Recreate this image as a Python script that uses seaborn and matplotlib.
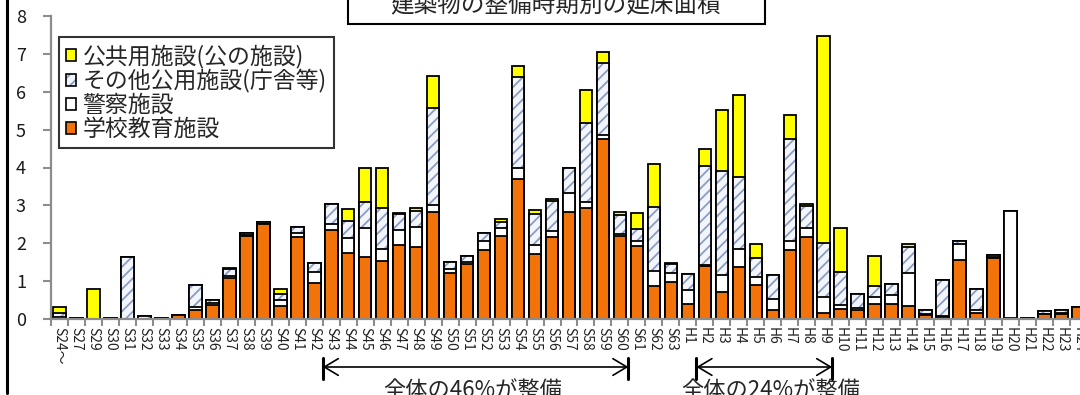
import numpy as np
import pandas as pd
import matplotlib
matplotlib.use("Agg")
import matplotlib.pyplot as plt
from matplotlib.patches import Patch, Rectangle
from matplotlib.lines import Line2D
from matplotlib.transforms import blended_transform_factory
import seaborn as sns

# Construction period (Showa / Heisei years)
periods = [
    "S24～", "S27", "S29", "S30", "S31", "S32", "S33", "S34", "S35", "S36",
    "S37", "S38", "S39", "S40", "S41", "S42", "S43", "S44", "S45", "S46",
    "S47", "S48", "S49", "S50", "S51", "S52", "S53", "S54", "S55", "S56",
    "S57", "S58", "S59", "S60", "S61", "S62", "S63",
    "H1", "H2", "H3", "H4", "H5", "H6", "H7", "H8", "H9", "H10",
    "H11", "H12", "H13", "H14", "H15", "H16", "H17", "H18", "H19", "H20",
    "H21", "H22", "H23", "H24",
]

# Floor area by facility type (10,000 m2)
school = [
    0.01, 0.00, 0.00, 0.00, 0.00, 0.01, 0.00, 0.10, 0.24, 0.36,
    1.07, 2.20, 2.50, 0.35, 2.17, 0.96, 2.35, 1.73, 1.64, 1.53,
    1.95, 1.91, 2.82, 1.21, 1.45, 1.82, 2.19, 3.69, 1.71, 2.17,
    2.83, 2.94, 4.74, 2.20, 1.93, 0.88, 0.97,
    0.39, 1.39, 0.72, 1.36, 0.90, 0.24, 1.82, 2.16, 0.15, 0.26,
    0.25, 0.40, 0.40, 0.34, 0.10, 0.05, 1.56, 0.15, 1.62, 0.02,
    0.01, 0.12, 0.13, 0.32,
]
police = [
    0.03, 0.00, 0.00, 0.00, 0.00, 0.00, 0.00, 0.00, 0.08, 0.05,
    0.06, 0.02, 0.02, 0.15, 0.11, 0.29, 0.17, 0.40, 0.77, 0.32,
    0.40, 0.53, 0.19, 0.10, 0.06, 0.24, 0.20, 0.31, 0.24, 0.16,
    0.49, 0.14, 0.13, 0.04, 0.13, 0.39, 0.24,
    0.38, 0.03, 0.44, 0.49, 0.22, 0.28, 0.24, 0.23, 0.44, 0.11,
    0.05, 0.19, 0.23, 0.87, 0.03, 0.03, 0.41, 0.08, 0.02, 2.82,
    0.00, 0.02, 0.02, 0.00,
]
other_public = [
    0.13, 0.02, 0.00, 0.02, 1.63, 0.06, 0.02, 0.00, 0.58, 0.09,
    0.20, 0.06, 0.05, 0.15, 0.16, 0.24, 0.51, 0.46, 0.67, 1.09,
    0.42, 0.42, 2.57, 0.19, 0.15, 0.20, 0.18, 2.40, 0.82, 0.78,
    0.66, 2.10, 1.88, 0.50, 0.31, 1.69, 0.23,
    0.42, 2.63, 2.75, 1.91, 0.50, 0.64, 2.69, 0.59, 1.42, 0.86,
    0.35, 0.29, 0.29, 0.70, 0.10, 0.95, 0.08, 0.55, 0.05, 0.02,
    0.01, 0.06, 0.08, 0.00,
]
public_use = [
    0.16, 0.00, 0.78, 0.00, 0.02, 0.00, 0.00, 0.00, 0.00, 0.00,
    0.02, 0.00, 0.00, 0.13, 0.00, 0.00, 0.00, 0.32, 0.90, 1.04,
    0.03, 0.08, 0.83, 0.00, 0.00, 0.00, 0.08, 0.29, 0.11, 0.07,
    0.02, 0.86, 0.30, 0.08, 0.42, 1.12, 0.04,
    0.00, 0.44, 1.60, 2.15, 0.36, 0.00, 0.63, 0.05, 5.46, 1.16,
    0.00, 0.79, 0.00, 0.06, 0.00, 0.00, 0.02, 0.00, 0.00, 0.00,
    0.00, 0.00, 0.00, 0.00,
]

series_names = ["公共用施設(公の施設)", "その他公用施設(庁舎等)", "警察施設", "学校教育施設"]
title = "建築物の整備時期別の延床面積"
spans = [("S43", "S60", "全体の46%が整備"), ("H2", "H9", "全体の24%が整備")]

ORANGE = "#F2730A"
YELLOW = "#FFFF00"
HATCH_FACE = "#F2F5FB"
HATCH_LINE = "#8B9DC3"
GRAY = "#8C8C8C"

sns.set_style("white")
plt.rcParams["font.family"] = ["Noto Sans CJK JP", "DejaVu Sans"]
plt.rcParams["hatch.linewidth"] = 1.3

df = pd.DataFrame({
    "period": periods,
    "school": school,
    "police": police,
    "other": other_public,
    "public": public_use,
})
df["c_school"] = df["school"]
df["c_police"] = df["c_school"] + df["police"]
df["c_other"] = df["c_police"] + df["other"]
df["c_public"] = df["c_other"] + df["public"]

W, H = 1080, 395
fig = plt.figure(figsize=(W / 100, H / 100), dpi=100)
ax = fig.add_axes([51 / W, 76 / H, 1036 / W, 303 / H])

BW = 0.74
EDGE = 1.3
common = dict(x="period", order=periods, width=BW, saturation=1, ax=ax, errorbar=None)

# Stacked bars: draw cumulative totals from the top layer down
sns.barplot(data=df, y="c_public", color=YELLOW, edgecolor="black", linewidth=EDGE, **common)
sns.barplot(data=df, y="c_other", color=HATCH_FACE, edgecolor=HATCH_LINE, linewidth=0,
            hatch="///", **common)
sns.barplot(data=df, y="c_other", fill=False, edgecolor="black", linewidth=EDGE, **common)
sns.barplot(data=df, y="c_police", color="white", edgecolor="black", linewidth=EDGE, **common)
sns.barplot(data=df, y="c_school", color=ORANGE, edgecolor="black", linewidth=EDGE, **common)

n = len(periods)
ax.set_xlim(-0.5, n - 0.5)
ax.set_ylim(0, 8)
ax.set_xlabel("")
ax.set_ylabel("")

for side in ("top", "right"):
    ax.spines[side].set_visible(False)
for side in ("left", "bottom"):
    ax.spines[side].set_color(GRAY)
    ax.spines[side].set_linewidth(1.6)
    ax.spines[side].set_zorder(5)

ax.set_yticks(range(0, 9))
ax.tick_params(axis="y", direction="out", length=6, width=1.5, color=GRAY,
               labelsize=13, pad=12, labelcolor="#1a1a1a", left=True)

ax.set_xticks(range(n))
ax.set_xticklabels(periods, rotation=270, ha="center", va="top", fontsize=10, color="#222222")
ax.set_xticks(np.arange(-0.5, n, 1.0), minor=True)
ax.tick_params(axis="x", which="major", length=0, pad=6, bottom=True)
ax.tick_params(axis="x", which="minor", length=5, width=1.5, color=GRAY, bottom=True)

# Legend
hatch_handle = (Patch(facecolor=HATCH_FACE, edgecolor=HATCH_LINE, hatch="///", linewidth=0),
                Patch(facecolor="none", edgecolor="black", linewidth=1.2))
handles = [
    Patch(facecolor=YELLOW, edgecolor="black", linewidth=1.2),
    hatch_handle,
    Patch(facecolor="white", edgecolor="black", linewidth=1.2),
    Patch(facecolor=ORANGE, edgecolor="black", linewidth=1.2),
]
leg = ax.legend(handles, series_names, loc="upper left",
                bbox_to_anchor=((59 - 51) / 1036, (319 - 37) / 303),
                borderaxespad=0, fontsize=16.5, frameon=True, fancybox=False,
                handlelength=0.4, handleheight=0.4, handletextpad=0.3,
                labelspacing=0.04, borderpad=0.32)
leg.get_frame().set_edgecolor("black")
leg.get_frame().set_linewidth(1.5)

# Outer frame edge and title box
fig.add_artist(Line2D([7 / W, 7 / W], [2 / H, 1.0], transform=fig.transFigure,
                      color="black", lw=2.2))
fig.add_artist(Rectangle((348 / W, (H - 24) / H), (765 - 348) / W, 40 / H,
                         transform=fig.transFigure, facecolor="white",
                         edgecolor="black", lw=1.5, clip_on=False))
fig.text(556 / W, (H - 5) / H, title, ha="center", va="center", fontsize=17)

# Period spans below the axis
trans = blended_transform_factory(ax.transData, fig.transFigure)
y_arrow = (H - 367) / H
y_lo, y_hi = (H - 379) / H, (H - 358) / H
label_shift = [-0.2, 0.35]
for (start, end, label), dx in zip(spans, label_shift):
    x0 = periods.index(start) - 0.5
    x1 = periods.index(end) + 0.5
    ax.annotate("", xy=(x1, y_arrow), xytext=(x0, y_arrow), xycoords=trans,
                textcoords=trans, annotation_clip=False,
                arrowprops=dict(arrowstyle="<->,head_length=0.5,head_width=0.3",
                                color="black", lw=1.2, shrinkA=0, shrinkB=0,
                                mutation_scale=20))
    for xe in (x0, x1):
        ax.plot([xe, xe], [y_lo, y_hi], transform=trans, color="black", lw=2.2,
                clip_on=False)
    ax.text((x0 + x1) / 2 + dx, (H - 379) / H, label, transform=trans, ha="center",
            va="top", fontsize=16)

fig.savefig("out.png", dpi=100)
